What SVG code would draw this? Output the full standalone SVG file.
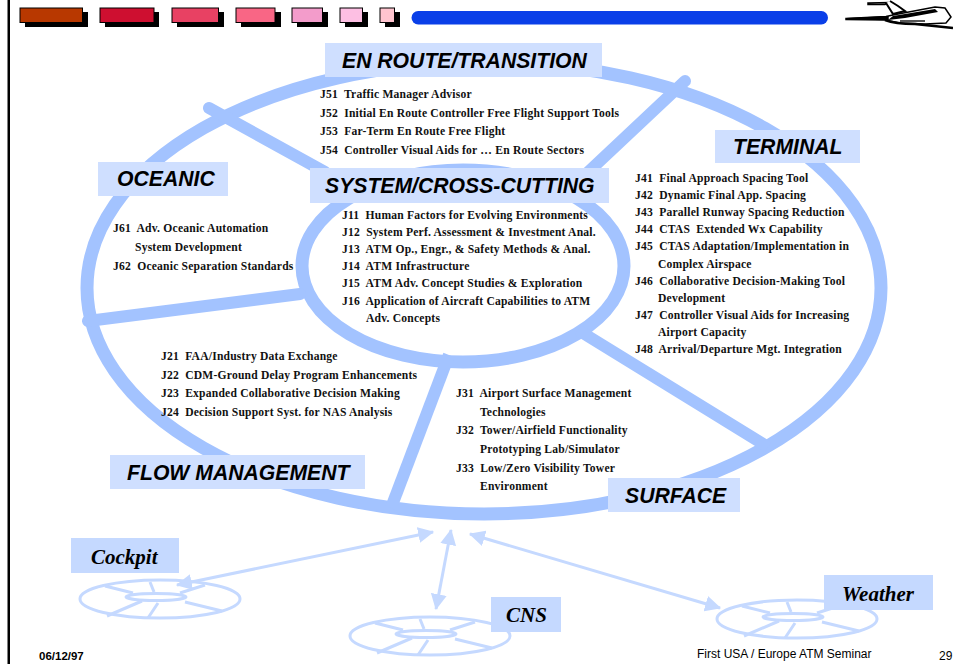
<svg xmlns="http://www.w3.org/2000/svg" xmlns:xlink="http://www.w3.org/1999/xlink" width="953" height="664" viewBox="0 0 953 664">
<style>
.bar{stroke:#000;stroke-width:1}
.sh{fill:#000}
.ring{fill:none;stroke:#A3C3FF;stroke-width:13}
.spoke{fill:none;stroke:#A3C3FF;stroke-width:12;stroke-linecap:round}
.spokeb{fill:none;stroke:#A3C3FF;stroke-width:12}
.lab{fill:#CFDFFF}
.lab2{fill:#C5D9FF}
.h{font-family:"Liberation Sans",Arial,sans-serif;font-weight:bold;font-style:italic;font-size:21.2px;fill:#000}
.h2{font-family:"Liberation Serif","Times New Roman",serif;font-weight:bold;font-style:italic;font-size:21px;fill:#000}
.t{font-family:"Liberation Serif","Times New Roman",serif;font-weight:bold;font-size:11.6px;letter-spacing:.2px;white-space:pre;fill:#111}
.f{font-family:"Liberation Sans",Arial,sans-serif;font-size:12px;fill:#000}
.m{fill:none;stroke:#C5D9FF;stroke-width:3}
.c{fill:none;stroke:#C5D9FF;stroke-width:3}
</style>
<defs>
<marker id="ah" viewBox="0 0 14 14" refX="13" refY="7" markerUnits="userSpaceOnUse" markerWidth="16" markerHeight="16" orient="auto-start-reverse"><path d="M0 0L14 7L0 14Z" fill="#C5D9FF"/></marker>
<g id="mini">
<ellipse class="m" cx="0" cy="0" rx="80" ry="19"/>
<ellipse class="m" cx="-4" cy="-2" rx="30" ry="3.500"/>
<path class="m" d="M-55-13L-27-6M-10-17L-6-7M45-14L20-6M-53 17L-18 2M-12 19L-2 4M62 12L25 3"/>
</g>
</defs>
<rect width="953" height="664" fill="#fff"/>
<rect x="7.500" y="0" width="2.500" height="664" fill="#000"/>
<g id="header">
<rect class="sh" x="25" y="12" width="63" height="15"/><rect class="bar" x="20" y="8" width="62.500" height="14.500" fill="#B83800"/>
<rect class="sh" x="105" y="12" width="54" height="15"/><rect class="bar" x="100" y="8" width="54" height="14.500" fill="#CE0F30"/>
<rect class="sh" x="177" y="12" width="47" height="15"/><rect class="bar" x="172" y="8" width="46.500" height="14.500" fill="#E84163"/>
<rect class="sh" x="241" y="12" width="40" height="15"/><rect class="bar" x="236" y="8" width="39" height="14.500" fill="#F96685"/>
<rect class="sh" x="297" y="12" width="31" height="15"/><rect class="bar" x="292" y="8" width="30.500" height="14.500" fill="#F39CCB"/>
<rect class="sh" x="345" y="12" width="23" height="15"/><rect class="bar" x="340" y="8" width="22.500" height="14.500" fill="#FDBFE3"/>
<rect class="sh" x="385" y="12" width="15" height="15"/><rect class="bar" x="380" y="8" width="14.500" height="14.500" fill="#FFC4CF"/>
<rect x="411.500" y="11" width="416.500" height="13.500" rx="6.700" fill="#0A3FE8"/>
<g id="plane">
<path d="M846 18.500L886 16.500L893 15L935 7L945 8L951 17L946 23L925 24L900 23L885 20L846 19.500Z" fill="#fff" stroke="#000" stroke-width="1.500"/>
<path d="M846 18.800L888 16.800L888 19.500Z" fill="#000" stroke="#000" stroke-width="1.500"/>
<path d="M868 3L888 2.500L885 4.500L868 4.500Z" fill="#fff" stroke="#000" stroke-width="1.500"/>
<path d="M886 3L893 14L905 11L898 6L890 1" fill="#fff" stroke="#000" stroke-width="2"/>
<path d="M893 16L935 9L938 12L905 18L888 20Z" fill="#000"/>
<path d="M885 20Q895 24 915 24L953 28" fill="none" stroke="#000" stroke-width="2.500"/>
<path d="M900 21L925 21" fill="none" stroke="#555" stroke-width="2"/>
</g>
</g>
<g id="connectors">
<ellipse class="ring" cx="484" cy="288" rx="397" ry="226"/>
<ellipse class="ring" cx="463" cy="266" rx="161" ry="96"/>
<path class="spoke" d="M209 108L325 172"/>
<path class="spoke" d="M685 81L585 175"/>
<path class="spoke" d="M88 321L300 294"/>
<path class="spokeb" d="M578 330L768 447"/>
<path class="spokeb" d="M449 355L391 508"/>
<path class="c" marker-start="url(#ah)" marker-end="url(#ah)" d="M177 585L433 532"/>
<path class="c" marker-start="url(#ah)" marker-end="url(#ah)" d="M436 609L451 530"/>
<path class="c" marker-start="url(#ah)" marker-end="url(#ah)" d="M720 608L470 534"/>
</g>
<use xlink:href="#mini" href="#mini" x="160" y="599"/>
<use xlink:href="#mini" href="#mini" x="430" y="636"/>
<use xlink:href="#mini" href="#mini" x="797" y="619"/>
<g id="enroute">
<rect class="lab" x="325" y="43" width="277" height="34"/>
<text class="h" x="342" y="68">EN ROUTE/TRANSITION</text>
<text class="t" x="320" y="98">J51  Traffic Manager Advisor</text>
<text class="t" x="320" y="117">J52  Initial En Route Controller Free Flight Support Tools</text>
<text class="t" x="320" y="135">J53  Far-Term En Route Free Flight</text>
<text class="t" x="320" y="154">J54  Controller Visual Aids for … En Route Sectors</text>
</g>
<g id="terminal">
<rect class="lab" x="715" y="130" width="145" height="33"/>
<text class="h" x="733" y="154">TERMINAL</text>
<text class="t" x="635" y="182">J41  Final Approach Spacing Tool</text>
<text class="t" x="635" y="199">J42  Dynamic Final App. Spacing</text>
<text class="t" x="635" y="216">J43  Parallel Runway Spacing Reduction</text>
<text class="t" x="635" y="233">J44  CTAS  Extended Wx Capability</text>
<text class="t" x="635" y="250">J45  CTAS Adaptation/Implementation in</text>
<text class="t" x="658" y="268">Complex Airspace</text>
<text class="t" x="635" y="285">J46  Collaborative Decision-Making Tool</text>
<text class="t" x="658" y="302">Development</text>
<text class="t" x="635" y="319">J47  Controller Visual Aids for Increasing</text>
<text class="t" x="658" y="336">Airport Capacity</text>
<text class="t" x="635" y="353">J48  Arrival/Departure Mgt. Integration</text>
</g>
<g id="oceanic">
<rect class="lab" x="98" y="162" width="130" height="34"/>
<text class="h" x="117" y="186">OCEANIC</text>
<text class="t" x="113" y="232">J61  Adv. Oceanic Automation</text>
<text class="t" x="135" y="251">System Development</text>
<text class="t" x="113" y="270">J62  Oceanic Separation Standards</text>
</g>
<g id="system">
<rect class="lab" x="310" y="168" width="299" height="35"/>
<text class="h" x="325" y="193">SYSTEM/CROSS-CUTTING</text>
<text class="t" x="342" y="219">J11  Human Factors for Evolving Environments</text>
<text class="t" x="342" y="236">J12  System Perf. Assessment &amp; Investment Anal.</text>
<text class="t" x="342" y="253">J13  ATM Op., Engr., &amp; Safety Methods &amp; Anal.</text>
<text class="t" x="342" y="270">J14  ATM Infrastructure</text>
<text class="t" x="342" y="287">J15  ATM Adv. Concept Studies &amp; Exploration</text>
<text class="t" x="342" y="305">J16  Application of Aircraft Capabilities to ATM</text>
<text class="t" x="366" y="322">Adv. Concepts</text>
</g>
<g id="flow">
<rect class="lab" x="110" y="455" width="255" height="34"/>
<text class="h" x="127" y="480">FLOW MANAGEMENT</text>
<text class="t" x="161" y="360">J21  FAA/Industry Data Exchange</text>
<text class="t" x="161" y="379">J22  CDM-Ground Delay Program Enhancements</text>
<text class="t" x="161" y="397">J23  Expanded Collaborative Decision Making</text>
<text class="t" x="161" y="416">J24  Decision Support Syst. for NAS Analysis</text>
</g>
<g id="surface">
<rect class="lab" x="608" y="478" width="132" height="34"/>
<text class="h" x="625" y="503">SURFACE</text>
<text class="t" x="456" y="397">J31  Airport Surface Management</text>
<text class="t" x="480" y="416">Technologies</text>
<text class="t" x="456" y="434">J32  Tower/Airfield Functionality</text>
<text class="t" x="480" y="453">Prototyping Lab/Simulator</text>
<text class="t" x="456" y="472">J33  Low/Zero Visibility Tower</text>
<text class="t" x="480" y="490">Environment</text>
</g>
<g id="cockpit"><rect class="lab2" x="71" y="538" width="108" height="35"/><text class="h2" x="91" y="564">Cockpit</text></g>
<g id="cns"><rect class="lab2" x="491" y="597" width="70" height="35"/><text class="h2" x="506" y="622">CNS</text></g>
<g id="weather"><rect class="lab2" x="824" y="575" width="109" height="35"/><text class="h2" x="842" y="601">Weather</text></g>
<g id="footer">
<text class="f" x="39" y="660" style="font-weight:bold;font-size:11.500px">06/12/97</text>
<text class="f" x="697" y="658">First USA / Europe ATM Seminar</text>
<text class="f" x="939" y="660">29</text>
</g>
</svg>
